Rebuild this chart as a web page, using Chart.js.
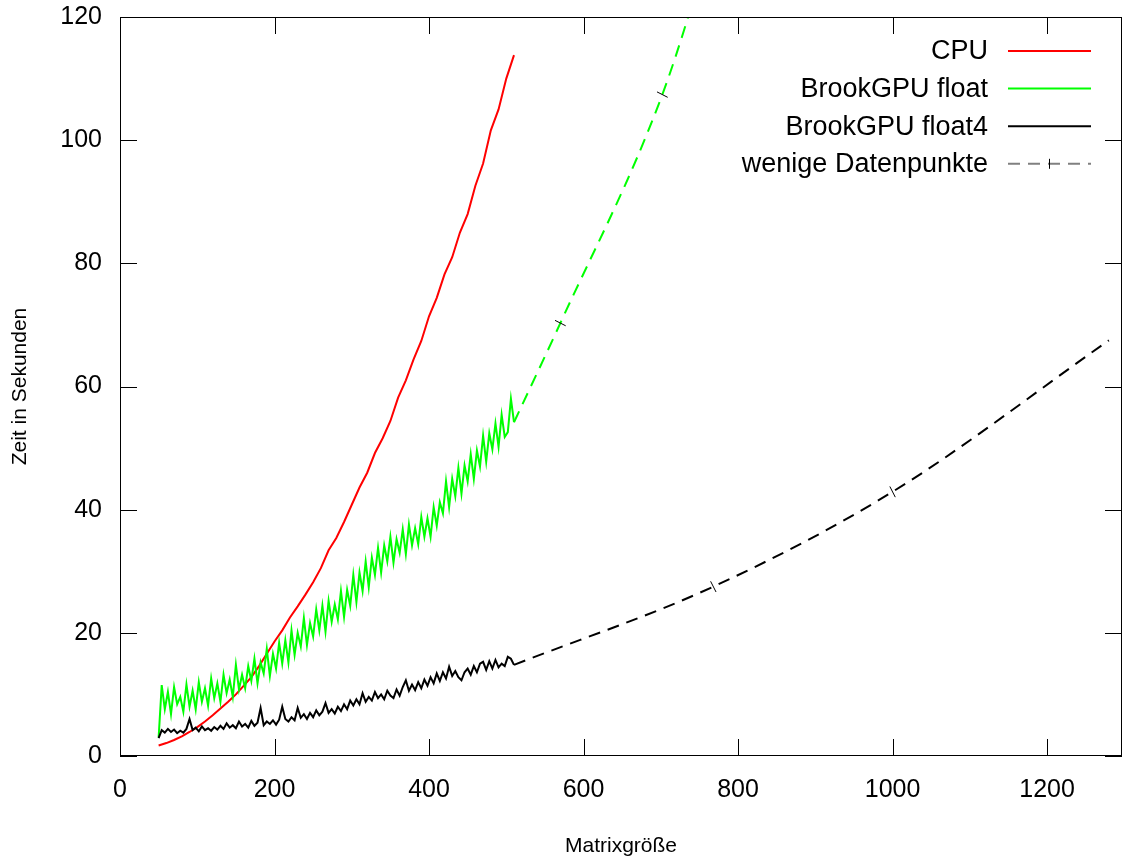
<!DOCTYPE html>
<html>
<head>
<meta charset="utf-8">
<script src="https://cdn.jsdelivr.net/npm/chart.js@4/dist/chart.umd.min.js"></script>
<style>
  html, body { margin: 0; padding: 0; background: #fff; }
  #wrap { width: 1123px; height: 859px; }
</style>
</head>
<body>
<div id="wrap"><canvas id="chart" width="1123" height="859"></canvas></div>
<script>
const cpuStart = 50, cpuStep = 10;
const cpuTimes = [1.7, 2.1, 2.6, 3.2, 3.9, 4.7, 5.6, 6.6, 7.7, 8.8,
    10.0, 11.4, 12.8, 14.6, 16.6, 18.6, 20.4, 22.5, 24.3, 26.2,
    28.2, 30.5, 33.4, 35.4, 38.0, 40.8, 43.6, 46.0, 49.2, 51.6,
    54.4, 58.2, 61.0, 64.4, 67.4, 71.4, 74.4, 78.2, 81.0, 85.0,
    88.0, 92.6, 96.2, 101.6, 105.0, 110.0, 113.8];

const gpuStart = 50, gpuStep = 4;
const floatTimes = [3.0, 11.5, 7.6, 10.4, 6.8, 11.2, 8.4, 9.6, 7.2, 11.6,
    8.0, 10.6, 7.6, 12.0, 8.8, 11.0, 8.2, 12.6, 9.4, 11.8,
    8.8, 13.2, 10.2, 12.4, 9.6, 14.8, 10.8, 13.2, 11.0, 14.6,
    12.2, 15.8, 11.8, 15.2, 13.4, 17.4, 13.0, 16.6, 14.2, 18.4,
    15.0, 18.8, 15.2, 20.4, 16.4, 20.0, 17.8, 22.4, 18.0, 21.6,
    19.4, 23.8, 20.4, 24.4, 20.2, 25.2, 21.8, 24.6, 22.2, 26.8,
    22.6, 27.0, 24.4, 29.4, 25.0, 29.8, 26.8, 31.6, 27.4, 32.2,
    29.4, 33.8, 29.8, 34.2, 31.6, 35.6, 31.4, 35.2, 33.0, 36.8,
    32.8, 37.6, 34.2, 37.0, 34.4, 38.8, 35.6, 38.6, 35.6, 40.4,
    37.4, 41.2, 39.4, 44.6, 40.4, 45.0, 42.2, 46.8, 42.6, 47.2,
    44.6, 49.0, 45.0, 49.6, 47.0, 52.0, 47.8, 52.4, 49.8, 54.0,
    50.2, 55.4, 51.8, 52.6, 58.0, 54.2];
const float4Times = [2.9, 4.2, 3.8, 4.4, 3.9, 4.3, 3.7, 4.1, 3.8, 4.4,
    6.0, 4.2, 4.6, 4.0, 4.8, 4.2, 4.5, 4.1, 4.7, 4.3,
    4.9, 4.4, 5.3, 4.6, 5.0, 4.5, 5.6, 4.8, 5.2, 4.6,
    5.7, 4.9, 5.4, 7.8, 5.0, 5.6, 5.2, 5.8, 5.1, 5.9,
    8.0, 6.0, 5.6, 6.3, 5.8, 7.8, 6.2, 6.8, 6.0, 7.0,
    6.3, 7.4, 6.6, 7.2, 8.6, 7.0, 7.6, 6.9, 8.0, 7.3,
    8.4, 7.6, 9.0, 8.2, 9.2, 8.4, 10.2, 8.8, 9.6, 9.0,
    10.4, 9.4, 10.0, 9.2, 10.6, 9.8, 9.4, 10.8, 9.8, 11.2,
    12.3, 10.6, 11.6, 10.7, 12.0, 11.0, 12.4, 11.4, 12.8, 11.8,
    13.4, 12.2, 13.6, 12.6, 14.5, 13.0, 13.8, 12.8, 12.3, 13.6,
    14.2, 13.2, 14.6, 13.6, 15.0, 15.3, 14.0, 15.4, 14.2, 15.6,
    14.4, 15.0, 14.6, 16.1, 15.8, 14.8];

// wenige Datenpunkte (gestrichelt)
const floatFewSizes = [510, 570, 702, 770];
const floatFewTimes = [54.2, 70.3, 107.4, 134.0];
const float4FewSizes = [510, 768, 1000, 1280];
const float4FewTimes = [14.8, 27.5, 42.9, 67.5];

const xTicks = [0, 200, 400, 600, 800, 1000, 1200];
const yTicks = [0, 20, 40, 60, 80, 100, 120];

const legendEntries = ['CPU', 'BrookGPU float', 'BrookGPU float4', 'wenige Datenpunkte'];

function toPoints(start, step, values) {
    return values.map((v, i) => ({ x: start + step * i, y: v }));
}
function pairPoints(xs, ys) {
    return xs.map((x, i) => ({ x: x, y: ys[i] }));
}

const FONT = '"Liberation Sans", Arial, sans-serif';

const frameTicks = {
    id: 'frameTicks',
    afterDatasetsDraw(chart) {
        const ctx = chart.ctx, a = chart.chartArea;
        const sx = chart.scales.x, sy = chart.scales.y;
        ctx.save();
        ctx.strokeStyle = '#000';
        ctx.lineWidth = 1;
        ctx.beginPath();
        sx.ticks.forEach(t => {
            const px = Math.round(sx.getPixelForValue(t.value)) + 0.5;
            ctx.moveTo(px, a.bottom); ctx.lineTo(px, a.bottom - 17);
            ctx.moveTo(px, a.top); ctx.lineTo(px, a.top + 17);
        });
        sy.ticks.forEach(t => {
            const py = Math.round(sy.getPixelForValue(t.value)) + 0.5;
            ctx.moveTo(a.left, py); ctx.lineTo(a.left + 17, py);
            ctx.moveTo(a.right, py); ctx.lineTo(a.right - 17, py);
        });
        ctx.stroke();
        ctx.strokeRect(a.left + 0.5, a.top + 0.5, a.right - a.left - 1, a.bottom - a.top - 1);
        ctx.restore();
    }
};

const keyBox = {
    id: 'keyBox',
    afterDraw(chart) {
        const ctx = chart.ctx;
        const styles = [
            { color: '#ff0000', dash: [] },
            { color: '#00ff00', dash: [] },
            { color: '#000000', dash: [] },
            { color: '#808080', dash: [12, 8], mark: true }
        ];
        ctx.save();
        ctx.font = '27px ' + FONT;
        ctx.textAlign = 'right';
        ctx.textBaseline = 'middle';
        legendEntries.forEach((label, i) => {
            const y = 51 + 37.6 * i;
            ctx.fillStyle = '#000';
            ctx.fillText(label, 988, y + 1);
            ctx.strokeStyle = styles[i].color;
            ctx.lineWidth = 2;
            ctx.setLineDash(styles[i].dash);
            ctx.beginPath();
            ctx.moveTo(1008, y);
            ctx.lineTo(1091, y);
            ctx.stroke();
            if (styles[i].mark) {
                ctx.setLineDash([]);
                ctx.strokeStyle = '#000';
                ctx.lineWidth = 1;
                ctx.beginPath();
                ctx.moveTo(1049.5, y - 5);
                ctx.lineTo(1049.5, y + 5);
                ctx.stroke();
            }
        });
        ctx.restore();
    }
};

const ctx = document.getElementById('chart').getContext('2d');
const chart = new Chart(ctx, {
    type: 'line',
    data: {
        datasets: [
            {
                label: 'BrookGPU float4',
                data: toPoints(gpuStart, gpuStep, float4Times),
                borderColor: '#000000',
                borderWidth: 2,
                pointRadius: 0,
                tension: 0
            },
            {
                label: 'BrookGPU float',
                data: toPoints(gpuStart, gpuStep, floatTimes),
                borderColor: '#00ff00',
                borderWidth: 2,
                pointRadius: 0,
                tension: 0
            },
            {
                label: 'CPU',
                data: toPoints(cpuStart, cpuStep, cpuTimes),
                borderColor: '#ff0000',
                borderWidth: 2,
                pointRadius: 0,
                tension: 0
            },
            {
                label: 'float4 wenige',
                data: pairPoints(float4FewSizes, float4FewTimes),
                borderColor: '#000000',
                borderWidth: 2,
                borderDash: [12, 8],
                cubicInterpolationMode: 'monotone',
                pointStyle: 'line',
                pointRotation: 63,
                pointRadius: [0, 6, 6, 0],
                pointBorderColor: '#000000',
                pointBorderWidth: 1
            },
            {
                label: 'float wenige',
                data: pairPoints(floatFewSizes, floatFewTimes),
                borderColor: '#00ff00',
                borderWidth: 2,
                borderDash: [12, 8],
                cubicInterpolationMode: 'monotone',
                pointStyle: 'line',
                pointRotation: 27,
                pointRadius: [0, 6, 6, 0],
                pointBorderColor: '#000000',
                pointBorderWidth: 1
            }
        ]
    },
    options: {
        responsive: false,
        animation: false,
        layout: { padding: { top: 17, right: 1, left: 0, bottom: 0 } },
        plugins: {
            legend: { display: false },
            tooltip: { enabled: false }
        },
        scales: {
            x: {
                type: 'linear',
                min: 0,
                max: 1297,
                afterFit: s => { s.height = 103; s.paddingLeft = 0; s.paddingRight = 0; },
                afterBuildTicks: s => { s.ticks = xTicks.map(v => ({ value: v })); },
                grid: { display: false, drawTicks: false },
                border: { display: false },
                ticks: {
                    padding: 19,
                    color: '#000',
                    font: { family: FONT, size: 25 },
                    callback: v => String(v)
                },
                title: {
                    display: true,
                    text: 'Matrixgröße',
                    color: '#000',
                    padding: { top: 0, bottom: 0 },
                    font: { family: FONT, size: 21 }
                }
            },
            y: {
                min: 0,
                max: 120,
                afterFit: s => { s.width = 120; s.paddingTop = 0; s.paddingBottom = 0; },
                afterBuildTicks: s => { s.ticks = yTicks.map(v => ({ value: v })); },
                grid: { display: false, drawTicks: false },
                border: { display: false },
                ticks: {
                    padding: 18,
                    color: '#000',
                    font: { family: FONT, size: 25 },
                    callback: v => String(v)
                },
                title: {
                    display: true,
                    text: 'Zeit in Sekunden',
                    color: '#000',
                    padding: { top: 8, bottom: 0 },
                    font: { family: FONT, size: 21 }
                }
            }
        }
    },
    plugins: [frameTicks, keyBox]
});
</script>
</body>
</html>
